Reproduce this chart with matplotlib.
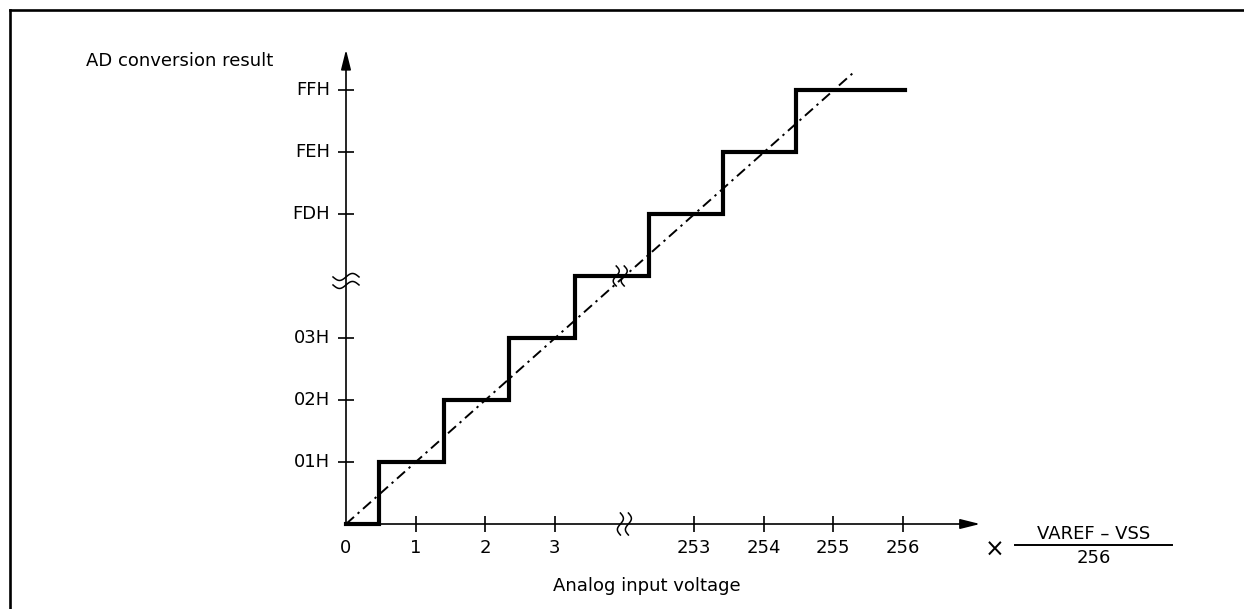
import matplotlib
matplotlib.use("agg")
import matplotlib.pyplot as plt
import matplotlib.transforms as mtransforms
from matplotlib.lines import Line2D
import numpy as np

plt.rcParams["font.family"] = ["DejaVu Sans"]

# axis values (the axis is broken between 3 and 253)
x_ticks = [0, 1, 2, 3, 253, 254, 255, 256]
y_ticks = [1, 2, 3, 253, 254, 255]
y_labels = ["01H", "02H", "03H", "FDH", "FEH", "FFH"]

# staircase: x edges where the code changes, and the code held from there
step_x = [0, 0.47, 1.41, 2.34, 3.29, 252.35, 253.42, 254.47, 256.03]
step_y = [0, 1, 2, 3, 252, 253, 254, 255, 255]

# ideal conversion line
ideal_x = [0, 255.28]
ideal_y = [0, 255.27]

BREAK_SHIFT = 248
FS = 13


def brk(v):
    v = np.asarray(v, dtype=float)
    return np.where(v > 100, v - BREAK_SHIFT, v)


W, H = 1244, 609
X0, Y0 = 346, 524  # pixel of origin (from top-left)
SX, SY = 69.6, 62.0  # pixels per unit

fig = plt.figure(figsize=(W / 100, H / 100), dpi=100)
ax = fig.add_axes([0, 0, 1, 1])
ax.set_xlim(-X0 / SX, (W - X0) / SX)
ax.set_ylim(-(H - Y0) / SY, Y0 / SY)
ax.axis("off")

# frame (only top and left edges are visible)
fig.add_artist(Line2D([10 / W, 1], [1 - 10 / H, 1 - 10 / H], color="black", lw=1.9))
fig.add_artist(Line2D([10 / W, 10 / W], [0, 1 - 10 / H], color="black", lw=1.9))

# axes with arrows
arrow = dict(arrowstyle="-|>,head_length=1.2,head_width=0.3", color="black",
             lw=1.2, shrinkA=0, shrinkB=0, mutation_scale=10)
ax.annotate("", xy=(9.11, 0), xytext=(0, 0), arrowprops=arrow)
ax.annotate("", xy=(0, 7.65), xytext=(0, 0), arrowprops=arrow)

# tick marks
xt = brk(x_ticks[1:])
yt = brk(y_ticks)
ax.plot(xt, np.zeros(len(xt)), ls="none", marker="|", ms=12, mew=1.2, color="black")
ax.plot(np.zeros(len(yt)), yt, ls="none", marker="_", ms=12, mew=1.2, color="black")

for v, p in zip(x_ticks, brk(x_ticks)):
    ax.text(p, -0.39, str(v), ha="center", va="center", fontsize=FS)
for lab, p in zip(y_labels, yt):
    ax.text(-0.23, p, lab, ha="right", va="center", fontsize=FS)

# ideal line and staircase
ax.plot(brk(ideal_x), brk(ideal_y), color="black", lw=1.4,
        ls=(0, (5.5, 2.5, 1.2, 2.5)))
ax.step(brk(step_x), brk(step_y), where="post", color="black", lw=3,
        solid_joinstyle="miter")


def break_mark(x, y, vertical, size):
    cx, cy = ax.transData.transform((x, y))
    t = np.linspace(-1, 1, 40)
    for off in (-4, 4):
        if vertical:
            px = cx + off + 3.0 * np.sin(np.pi * t)
            py = cy + size * t
        else:
            px = cx + size * t
            py = cy + off + 3.5 * np.sin(np.pi * t)
        ax.plot(px, py, color="black", lw=1.1, transform=mtransforms.IdentityTransform())


break_mark(4.0, 0, True, 11)
break_mark(3.94, 4.0, True, 10)
break_mark(0, 3.92, False, 13)

# labels
ax.text(-3.74, 7.47, "AD conversion result", ha="left", va="center", fontsize=FS)
ax.text(4.32, -1.0, "Analog input voltage", ha="center", va="center", fontsize=FS)
ax.text(9.32, -0.42, "×", ha="center", va="center", fontsize=17)
ax.text(10.74, -0.16, "VAREF – VSS", ha="center", va="center", fontsize=FS)
ax.plot([9.61, 11.87], [-0.34, -0.34], color="black", lw=1.4)
ax.text(10.74, -0.55, "256", ha="center", va="center", fontsize=FS)

fig.savefig("out.png", dpi=100)
